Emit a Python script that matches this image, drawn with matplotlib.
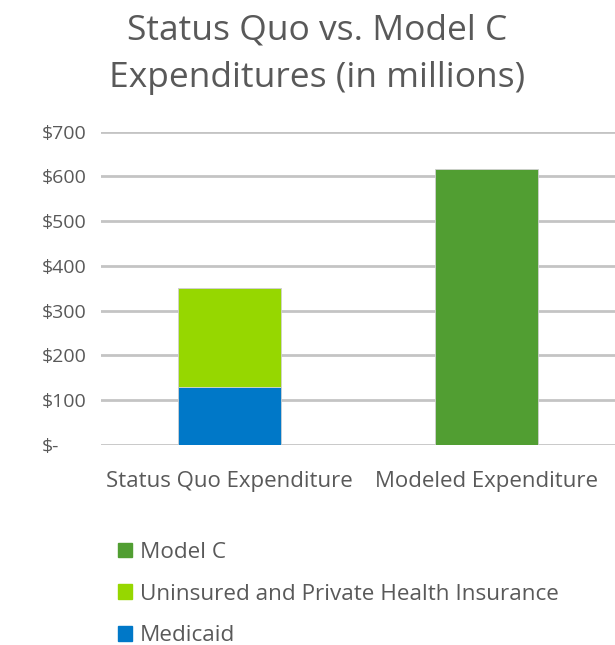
import numpy as np
import matplotlib.pyplot as plt
from matplotlib.patches import Patch

categories = ["Status Quo Expenditure", "Modeled Expenditure"]
medicaid = [130, 0]
uninsured = [220, 0]
model_c = [0, 616]
yticks = [0, 100, 200, 300, 400, 500, 600, 700]
ytick_labels = ["$-", "$100", "$200", "$300", "$400", "$500", "$600", "$700"]

plt.rcParams["font.family"] = ["Open Sans", "DejaVu Sans"]
txt = "#595959"

fig = plt.figure(figsize=(6.15, 6.45), dpi=100)
ax = fig.add_axes([101 / 615, 200 / 645, 514 / 615, 313.3 / 645])

x = np.arange(len(categories))
w = 0.4
ax.bar(x, medicaid, w, color="#0078C8", edgecolor="#d0d0d0", linewidth=0.6, zorder=3)
ax.bar(x, uninsured, w, bottom=medicaid, color="#96D700", edgecolor="#d0d0d0", linewidth=0.6, zorder=3)
ax.bar(x, model_c, w, bottom=np.add(medicaid, uninsured), color="#519E32", edgecolor="#d0d0d0", linewidth=0.6, zorder=3)

ax.set_xlim(-0.5, 1.5)
ax.set_ylim(0, 700)
ax.set_yticks(yticks)
ax.set_yticklabels(ytick_labels, ha="left")
ax.set_xticks(x)
ax.set_xticklabels(categories)
ax.tick_params(axis="y", length=0, pad=43, labelsize=14, labelcolor=txt)
ax.tick_params(axis="x", length=0, pad=19, labelsize=16, labelcolor=txt)
ax.grid(axis="y", color="#c4c4c4", linewidth=2, zorder=0)
for s in ax.spines.values():
    s.set_visible(False)

fig.text(0.515, 0.979, "Status Quo vs. Model C\nExpenditures (in millions)",
         ha="center", va="top", fontsize=25.5, color=txt, linespacing=1.52)

handles = [Patch(color="#519E32"), Patch(color="#96D700"), Patch(color="#0078C8")]
labels = ["Model C", "Uninsured and Private Health Insurance", "Medicaid"]
fig.legend(handles, labels, loc="upper left", bbox_to_anchor=(118 / 615, 1 - 542 / 645),
           frameon=False, fontsize=16.2, labelcolor=txt, handlelength=0.62, handleheight=0.62,
           handletextpad=0.35, labelspacing=0.92, borderpad=0, borderaxespad=0)

fig.savefig("out.png", dpi=100)
